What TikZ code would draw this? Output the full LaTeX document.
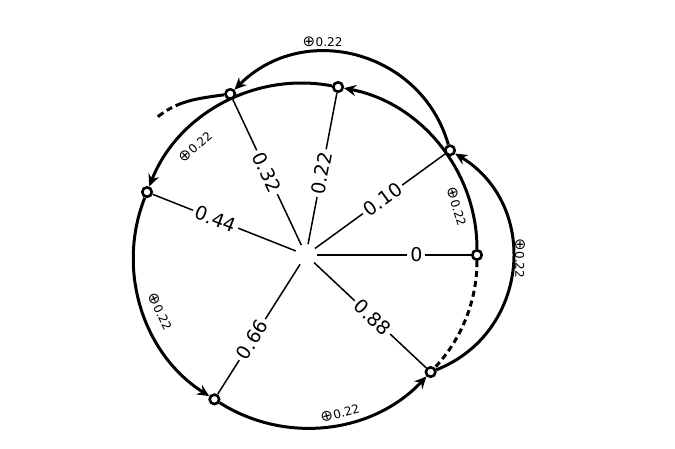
\documentclass[tikz,border=0pt]{standalone}
\usepackage{fontspec}
\setmainfont{DejaVu Sans}
\usetikzlibrary{arrows.meta,backgrounds}
\newcommand{\opl}{{\fontsize{15}{15}\selectfont ⊕}\kern0.5pt}
\begin{document}
\begin{tikzpicture}[x=1pt,y=1pt,
  pt/.style={circle,draw,line width=2.6pt,fill=white,minimum size=9.5pt,inner sep=0pt},
  spoke/.style={line width=1.5pt},
  num/.style={font=\fontsize{19}{19}\selectfont,fill=white,inner sep=3pt,sloped},
  hop/.style={line width=3pt,-{Stealth[length=12pt,width=11pt,inset=4pt]}},
  inhop/.style={hop,bend right=39.6,looseness=0.96},
  lab/.style={font=\fontsize{12}{12}\selectfont,inner sep=1pt}]
\useasboundingbox (-306,-194) rectangle (369,255);
\node[pt] (p0) at (0:171) {};
\node[pt] (p10) at (36:178) {};
\node[pt] (p22) at (79.2:171) {};
\node[pt] (p32) at (115.2:178) {};
\node[pt] (p44) at (158.4:171) {};
\node[pt] (p66) at (237.6:171) {};
\node[pt] (p88) at (316.8:171) {};
\coordinate (t) at (-151,136);
\foreach \a/\n in {0/0,36/10,79.2/22,115.2/32,158.4/44,237.6/66,316.8/88}
  \coordinate (i\n) at (\a:11);
\node[lab,rotate=-73] (l1) at (17.8:158.3) {\opl0.22};
\node[lab,rotate=42] (l2) at (135.7:155) {\opl0.22};
\node[lab,rotate=-64] (l3) at (201.2:156.6) {\opl0.22};
\node[lab,rotate=15] (l4) at (282.1:161.9) {\opl0.22};
\node[lab,rotate=-90] (l5) at (214,-3.3) {\opl0.22};
\node[lab] (l6) at (16.5,213.3) {\opl0.22};
\begin{pgfonlayer}{background}
\draw[spoke] (i0) -- node[num,pos=0.645]{0} (p0);
\draw[spoke] (i10) -- node[num,pos=0.52]{0.10} (p10);
\draw[spoke] (i22) -- node[num,pos=0.47]{0.22} (p22);
\draw[spoke] (i32) -- node[num,pos=0.50]{0.32} (p32);
\draw[spoke] (i44) -- node[num,pos=0.56]{0.44} (p44);
\draw[spoke] (i66) -- node[num,pos=0.58]{0.66} (p66);
\draw[spoke] (i88) -- node[num,pos=0.52]{0.88} (p88);
\draw[inhop] (p0) to (p22);
\draw[inhop] (p22) to (p44);
\draw[inhop] (p44) to (p66);
\draw[inhop] (p66) to (p88);
\draw[hop,bend right=63.5,looseness=1.18] (p88) to (p10);
\draw[hop,bend right=59.5,looseness=1.13] (p10) to (p32);
\draw[line width=3pt,dash pattern=on 6pt off 4pt,bend left=21.6,looseness=0.88] (p0) to (p88);
\draw[line width=3pt,dash pattern=on 50pt off 4pt on 6pt off 4pt on 7pt off 60pt] (p32) to[out=188,in=40] (t);
\end{pgfonlayer}
\end{tikzpicture}
\end{document}
